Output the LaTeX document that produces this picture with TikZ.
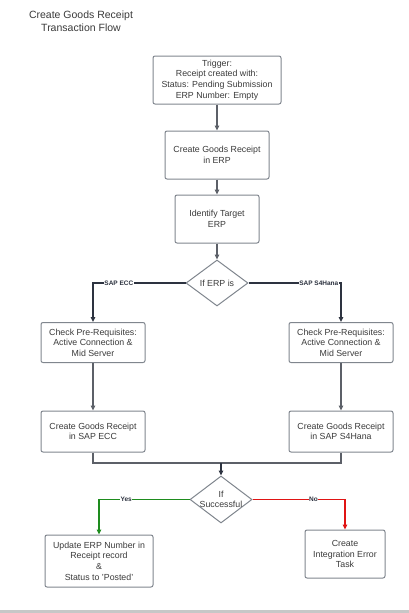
\documentclass[tikz,border=0pt]{standalone}
\usepackage{fontspec}
\setmainfont{Liberation Sans}
\usetikzlibrary{arrows.meta}
\usetikzlibrary{shapes.geometric}
\definecolor{txt}{HTML}{3B3B3B}
\definecolor{edge}{HTML}{80868E}
\definecolor{conn}{HTML}{5C6068}
\definecolor{dark}{HTML}{2D3340}
\definecolor{okgreen}{HTML}{1E8C1E}
\definecolor{errred}{HTML}{E01414}
\begin{document}
\begin{tikzpicture}[x=1pt, y=-1pt,
        box/.style={rectangle, rounded corners=2pt, draw=edge, line width=1pt,
                    text=txt, align=center, inner sep=1pt,
                    font=\fontsize{8.8}{10.6}\selectfont},
        dia/.style={diamond, draw=edge, line width=1pt, inner sep=0pt,
                    label={[text=txt, align=center, font=\fontsize{8.8}{10.6}\selectfont]center:#1}},
        arr/.style={-{Triangle[length=5pt,width=4.5pt]}, line width=1.1pt, draw=conn},
        lab/.style={fill=white, inner sep=0.6pt, text=dark,
                    font=\fontsize{6.5}{7}\selectfont\bfseries}
                            ]
        % page
        \useasboundingbox (0,0) rectangle (409,613);
        \fill[white] (0,0) rectangle (409,613);
        \fill[black!22] (0,610) rectangle (409,613);
        % title
        \node[text=txt, align=center, font=\fontsize{10.5}{13}\selectfont] (title) at (81,21.5)
            {Create Goods Receipt\\Transaction Flow};
        % boxes
        \node[box, minimum width=128pt, minimum height=48pt] (trig) at (217,80)
            {Trigger:\\Receipt created with:\\Status: Pending Submission\\ERP Number: Empty};
        \node[box, minimum width=104pt, minimum height=48pt] (create) at (217,155)
            {Create Goods Receipt\\in ERP};
        \node[box, minimum width=84pt, minimum height=48pt] (ident) at (217,219)
            {Identify Target\\ERP};
        \node[dia={If ERP is}, minimum width=62pt, minimum height=46pt] (erp) at (217,283) {};
        \node[box, minimum width=104pt, minimum height=40pt] (checkecc) at (93,342.5)
            {Check Pre-Requisites:\\Active Connection \&\\Mid Server};
        \node[box, minimum width=104pt, minimum height=40pt] (checks4) at (341,342.5)
            {Check Pre-Requisites:\\Active Connection \&\\Mid Server};
        \node[box, minimum width=104pt, minimum height=41pt] (grecc) at (93,431.5)
            {Create Goods Receipt\\in SAP ECC};
        \node[box, minimum width=104pt, minimum height=41pt] (grs4) at (341,431.5)
            {Create Goods Receipt\\in SAP S4Hana};
        \coordinate (merge) at (221,463);
        \node[dia={If\\Successful}, minimum width=62pt, minimum height=47pt] (succ) at (221,499.5) {};
        \node[box, minimum width=108pt, minimum height=52pt] (update) at (99,561)
            {Update ERP Number in\\Receipt record\\\&\\Status to 'Posted'};
        \node[box, minimum width=80pt, minimum height=48pt] (errtask) at (345,554)
            {Create\\Integration Error\\Task};
        % connectors
        \draw[arr] (trig) -- (create);
        \draw[arr] (create) -- (ident);
        \draw[arr] (ident) -- (erp);
        \draw[arr, draw=dark, line width=1.5pt] (erp.west) -| node[lab, pos=.36] {SAP ECC} (checkecc.north);
        \draw[arr, draw=dark, line width=1.5pt] (erp.east) -| node[lab, pos=.38] {SAP S4Hana} (checks4.north);
        \draw[arr] (checkecc) -- (grecc);
        \draw[arr] (checks4) -- (grs4);
        \draw[conn, line width=1.1pt] (grecc.south) |- (merge);
        \draw[conn, line width=1.1pt] (grs4.south) |- (merge);
        \draw[arr, draw=dark] (merge) -- (succ.north);
        \draw[arr, draw=okgreen, line width=1.5pt] (succ.west) -| node[lab, pos=.35] {Yes} (update.north);
        \draw[arr, draw=errred, line width=1.5pt] (succ.east) -| node[lab, pos=.33] {No} (errtask.north);
    \end{tikzpicture}
\end{document}
